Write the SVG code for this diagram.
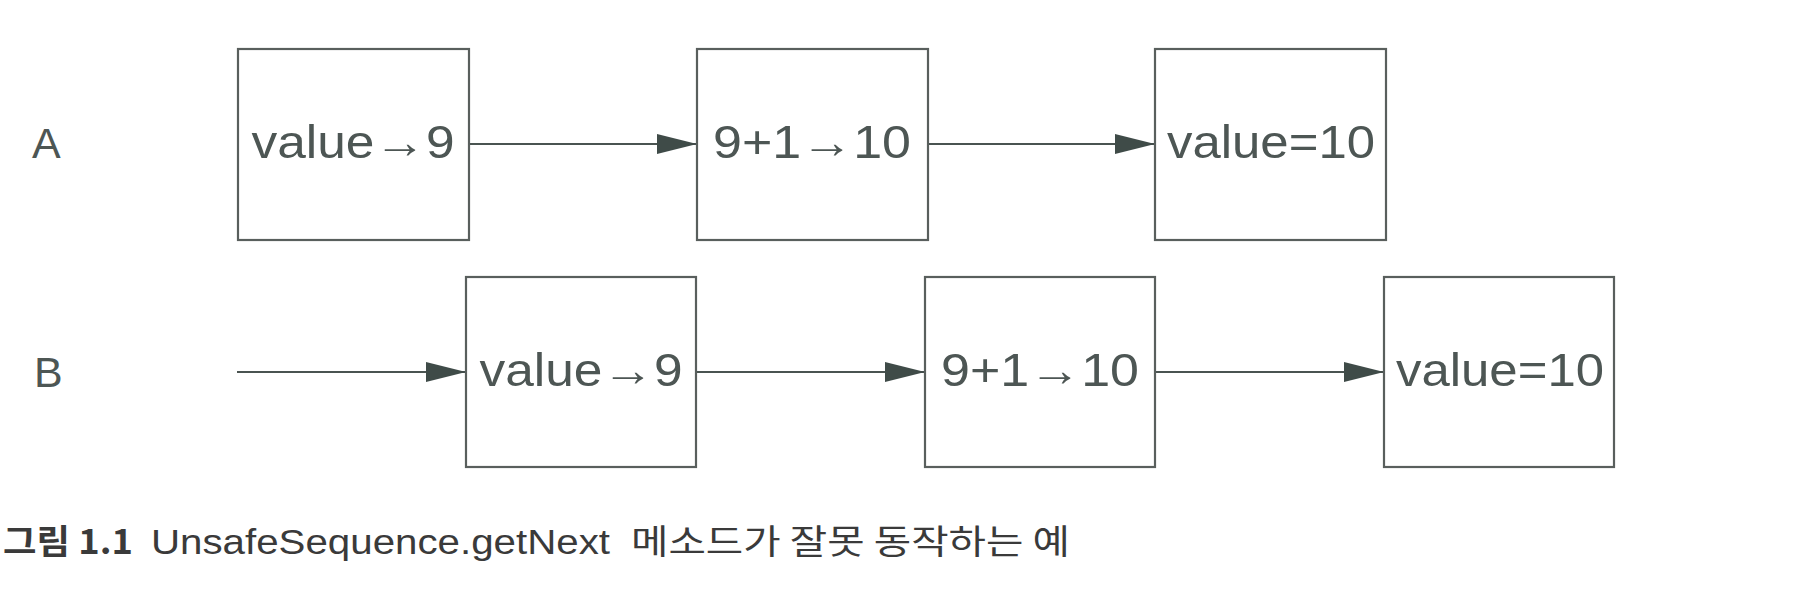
<svg xmlns="http://www.w3.org/2000/svg" width="1820" height="600" viewBox="0 0 1820 600">
<style>
.box{fill:#ffffff;stroke:#595f5d;stroke-width:2.2}
.t{font-family:"Liberation Sans","Noto Sans",sans-serif;font-size:46px;fill:#4d5654;text-anchor:middle}
.lbl{font-family:"Liberation Sans","Noto Sans",sans-serif;font-size:43px;fill:#4d5654}
.con{stroke:#4a5451;stroke-width:2.2;fill:none;marker-end:url(#ah)}
.cap{font-family:"Liberation Sans","Noto Sans CJK KR",sans-serif;font-size:35px;fill:#3a3a3a}
.capk{font-family:"Noto Sans CJK KR","Liberation Sans",sans-serif;font-size:34px;fill:#3a3a3a}
</style>
<defs>
<marker id="ah" viewBox="0 0 40 20" refX="40" refY="10" markerWidth="40" markerHeight="20" markerUnits="userSpaceOnUse" orient="auto">
<path d="M0,0 L40,10 L0,20 Z" fill="#3f4b48"/>
</marker>
</defs>
<rect width="1820" height="600" fill="#ffffff"/>
<g id="labels">
<text class="lbl" x="32" y="158">A</text>
<text class="lbl" x="34" y="387">B</text>
</g>
<g id="connectors">
<line class="con" x1="469" y1="144" x2="697" y2="144"/>
<line class="con" x1="928" y1="144" x2="1155" y2="144"/>
<line class="con" x1="237" y1="372" x2="466" y2="372"/>
<line class="con" x1="696" y1="372" x2="925" y2="372"/>
<line class="con" x1="1155" y1="372" x2="1384" y2="372"/>
</g>
<g id="a1"><rect class="box" x="238" y="49" width="231" height="191"/><text class="t" x="353" y="158" textLength="203" lengthAdjust="spacingAndGlyphs">value→9</text></g>
<g id="a2"><rect class="box" x="697" y="49" width="231" height="191"/><text class="t" x="812" y="158" textLength="198" lengthAdjust="spacingAndGlyphs">9+1→10</text></g>
<g id="a3"><rect class="box" x="1155" y="49" width="231" height="191"/><text class="t" x="1271" y="158" textLength="208" lengthAdjust="spacingAndGlyphs">value=10</text></g>
<g id="b1"><rect class="box" x="466" y="277" width="230" height="190"/><text class="t" x="581" y="386" textLength="203" lengthAdjust="spacingAndGlyphs">value→9</text></g>
<g id="b2"><rect class="box" x="925" y="277" width="230" height="190"/><text class="t" x="1040" y="386" textLength="198" lengthAdjust="spacingAndGlyphs">9+1→10</text></g>
<g id="b3"><rect class="box" x="1384" y="277" width="230" height="190"/><text class="t" x="1500" y="386" textLength="208" lengthAdjust="spacingAndGlyphs">value=10</text></g>
<g id="caption">
<text class="capk" x="3" y="554" font-weight="bold" textLength="130" lengthAdjust="spacingAndGlyphs">그림 1.1</text>
<text class="cap" x="151" y="554" textLength="459" lengthAdjust="spacingAndGlyphs">UnsafeSequence.getNext</text>
<text class="capk" x="631" y="554" textLength="439" lengthAdjust="spacingAndGlyphs">메소드가 잘못 동작하는 예</text>
</g>
</svg>
